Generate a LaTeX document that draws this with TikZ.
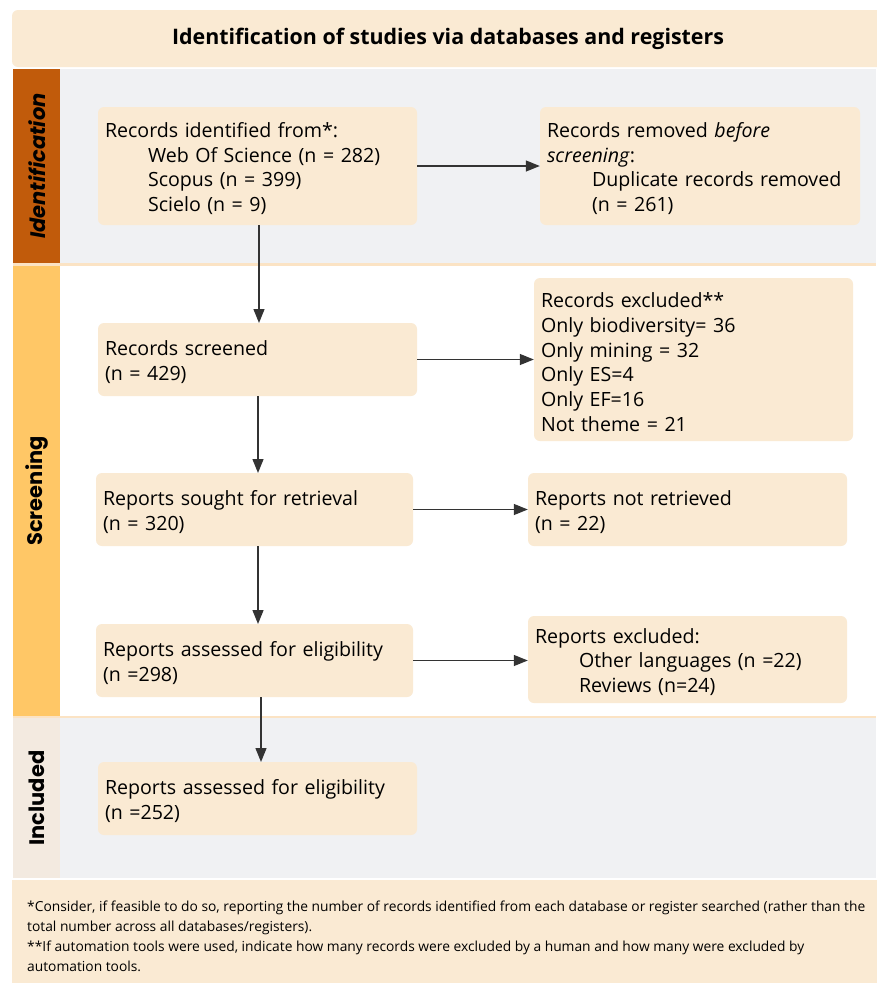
\documentclass[tikz,border=0pt]{standalone}
\usepackage{fontspec}
\setmainfont{Open Sans}
\newfontfamily\labfont{Poppins}
\usetikzlibrary{arrows.meta}
\definecolor{boxbg}{HTML}{FAEAD3}
\definecolor{idbar}{HTML}{C15B0B}
\definecolor{scbar}{HTML}{FFC766}
\definecolor{inbar}{HTML}{F3EAE0}
\definecolor{graybg}{HTML}{F0F1F3}
\definecolor{sepline}{HTML}{FBE3C4}
\definecolor{arr}{HTML}{333333}
\tikzset{
  flowbg/.style={fill=boxbg, rounded corners=6pt, inner sep=0pt},
  flowtext/.style={inner sep=0pt, align=left,
    font=\fontsize{19.6}{24.7}\selectfont, text=black},
  flow/.style={draw=arr, line width=1.3pt, -{Triangle[length=14pt,width=11pt]}},
  sidelab/.style={rotate=90, font=\labfont\fontsize{21}{24}\selectfont\bfseries, text=black},
}
% #1 name, #2 centre, #3 width, #4 height, #5 text
\newcommand\flowboxnode[5]{%
  \node[flowbg, minimum width=#3, minimum height=#4] (#1) at #2 {};
  \node[flowtext, text width=#3-14pt] (#1t) at ([yshift=-2.5pt]#1.center) {#5};
}
\begin{document}
\begin{tikzpicture}[x=1pt,y=-1pt]
\useasboundingbox (0,0) rectangle (876,983);
\fill[white] (0,0) rectangle (876,983);
% title
\fill[boxbg, rounded corners=6pt] (12,10) rectangle (890,67);
\node[font=\fontsize{21.4}{22}\selectfont\bfseries] (title) at (448,39) {Identification of studies via databases and registers};
% bands
\fill[graybg] (60,69) rectangle (876,263);
\fill[idbar] (13,69) rectangle (60,263);
\fill[white] (60,266) rectangle (876,716);
\fill[scbar] (13,266) rectangle (60,716);
\fill[graybg] (60,718) rectangle (876,878);
\fill[inbar] (13,718) rectangle (60,878);
\draw[sepline, line width=2.5pt] (13,264.5) -- (876,264.5);
\draw[sepline, line width=2pt] (13,717) -- (876,717);
\draw[white, line width=1.5pt] (61,266) -- (61,716);
\node[sidelab, font=\labfont\fontsize{21}{24}\selectfont\bfseries\itshape] (lid) at (37,166) {Identification};
\node[sidelab] (lsc) at (37,491) {Screening};
\node[sidelab] (lin) at (37,798) {Included};
% footnote
\fill[boxbg] (12,880) rectangle (890,983);
\node[anchor=north west, inner sep=0pt, align=left,
  font=\fontsize{13.8}{20}\selectfont] (foot) at (27,901)
  {*Consider, if feasible to do so, reporting the number of records identified from each database or register searched (rather than the\\
   total number across all databases/registers).\\{}**If automation tools were used, indicate how many records were excluded by a human and how many were excluded by\\
   automation tools.};
% boxes
\flowboxnode{b1}{(257.5,166)}{319pt}{118pt}
  {Records identified from*:\\
   \hspace*{43pt}Web Of Science (n = 282)\\
   \hspace*{43pt}Scopus (n = 399)\\
   \hspace*{43pt}Scielo (n = 9)}
\flowboxnode{b2}{(700,166)}{320pt}{118pt}
  {Records removed \textit{before}\\
   \textit{screening}:\\
   \hspace*{45pt}Duplicate records removed\\
   \hspace*{45pt}(n = 261)}
\flowboxnode{b3}{(257.5,359.5)}{319pt}{73pt}
  {Records screened\\(n = 429)}
\flowboxnode{b4}{(693.5,359.5)}{319pt}{163pt}
  {Records excluded**\\
   Only biodiversity= 36\\
   Only mining = 32\\
   Only ES=4\\
   Only EF=16\\
   Not theme = 21}
\flowboxnode{b5}{(254.5,509.5)}{317pt}{73pt}
  {Reports sought for retrieval\\(n = 320)}
\flowboxnode{b6}{(687.5,509.5)}{319pt}{73pt}
  {Reports not retrieved\\(n = 22)}
\flowboxnode{b7}{(254.5,660.5)}{317pt}{73pt}
  {Reports assessed for eligibility\\(n =298)}
\flowboxnode{b8}{(687.5,659.5)}{319pt}{87pt}
  {Reports excluded:\\
   \hspace*{44pt}Other languages (n =22)\\
   \hspace*{44pt}Reviews (n=24)}
\flowboxnode{b9}{(257.5,798.5)}{319pt}{73pt}
  {Reports assessed for eligibility\\(n =252)}
% connectors
\draw[flow] (b1.east) -- (b2.west |- b1.east);
\draw[flow] (b3.east) -- (b4.west |- b3.east);
\draw[flow] (b5.east) -- (b6.west |- b5.east);
\draw[flow] (b7.east) -- (b8.west |- b7.east);
\draw[flow] (259,225) -- (259,323);
\draw[flow] (258,396) -- (258,473);
\draw[flow] (258,546) -- (258,624);
\draw[flow] (261,697) -- (261,762);
\end{tikzpicture}
\end{document}
